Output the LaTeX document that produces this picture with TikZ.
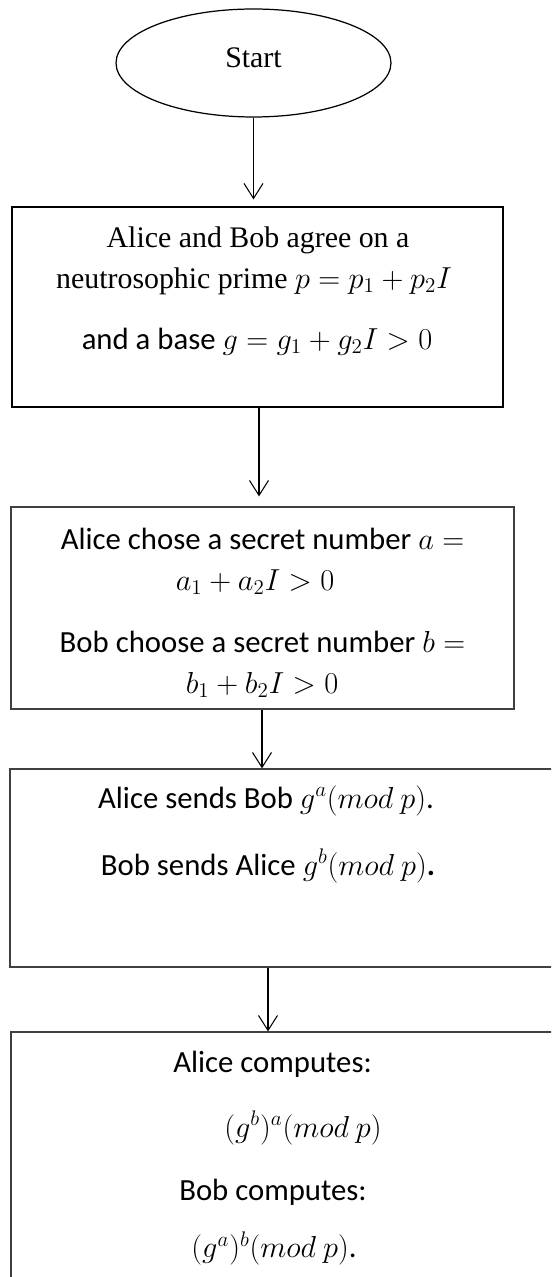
\documentclass[tikz,border=0pt]{standalone}
\usepackage{fontspec}
\usepackage{amsmath}
\setmainfont{Liberation Serif}
\newfontfamily\calibri{Carlito}
\usetikzlibrary{shapes.geometric,arrows.meta}

\begin{document}
\begin{tikzpicture}[x = 0.02cm, y = -0.02cm,
	stepbox/.style = {shape=rectangle, draw=black!75, line width=0.7pt},
	flow/.style = {-{Straight Barb[length=3mm,width=3.8mm]}, line width=0.6pt},
	serif/.style = {anchor=base, inner sep=0pt, font=\fontsize{17}{20}\selectfont},
	sans/.style = {anchor=base, inner sep=0pt, font=\fontsize{17.5}{20}\selectfont\calibri}]
	\path[use as bounding box, clip] (0,0) rectangle (551,1277);

	% shapes
	\node[shape=ellipse, draw=black, line width=0.7pt, minimum width=5.5cm, minimum height=2.16cm,
		text depth=0.2cm, font=\fontsize{17}{20}\selectfont] (start) at (253.5,63) {Start};
	\node[stepbox, draw=black, minimum width=9.82cm, minimum height=4cm] (agree) at (257.5,307) {};
	\node[stepbox, minimum width=10.06cm, minimum height=4.04cm] (secret) at (262.5,608) {};
	\node[stepbox, minimum width=11cm, minimum height=3.96cm] (send) at (285,868) {};
	\node[stepbox, minimum width=10.98cm, minimum height=5.76cm] (compute) at (285.5,1176) {};

	% texts
	\node[serif] (agree1) at (258,247) {Alice and Bob agree on a};
	\node[serif] (agree2) at (254,288) {neutrosophic prime $p = p_1 + p_2 I$};
	\node[sans] (agree3) at (257,349) {and a base $g = g_1 + g_2 I > 0$};

	\node[sans] (secret1) at (262.5,549) {Alice chose a secret number $a =$};
	\node[sans] (secret2) at (255,590) {$a_1 + a_2 I > 0$};
	\node[sans] (secret3) at (262.5,652) {Bob choose a secret number $b =$};
	\node[sans] (secret4) at (262,693) {$b_1 + b_2 I > 0$};

	\node[sans] (send1) at (266,808) {Alice sends Bob $g^{a}(mod\ p)$.};
	\node[sans] (send2) at (268,875) {Bob sends Alice $g^{b}(mod\ p)$\textbf{.}};

	\node[sans] (compute1) at (272.5,1072) {Alice computes:};
	\node[sans] (compute2) at (303,1137) {$(g^{b})^{a}(mod\ p)$};
	\node[sans] (compute3) at (273,1200) {Bob computes:};
	\node[sans] (compute4) at (274,1257) {$(g^{a})^{b}(mod\ p)$.};

	% arrows
	\draw[flow, shorten >=0.14cm] (start.south) -- (start.south |- agree.north);
	\draw[flow, shorten >=0.2cm] (agree.south -| 259,0) -- (secret.north -| 259,0);
	\draw[flow] (secret.south -| 262,0) -- (send.north -| 262,0);
	\draw[flow] (send.south -| 268,0) -- (compute.north -| 268,0);
\end{tikzpicture}
\end{document}
